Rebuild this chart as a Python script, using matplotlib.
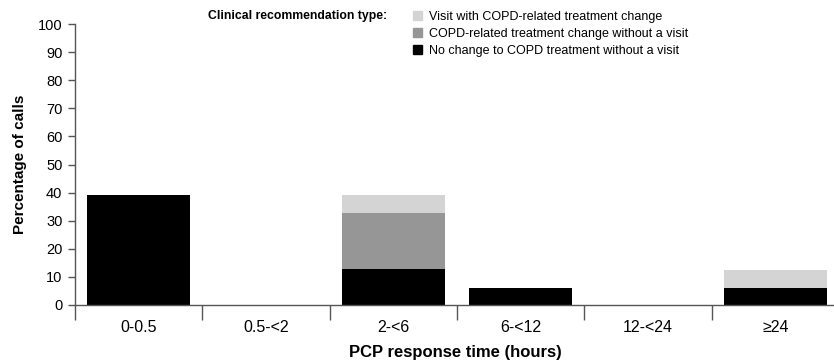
import matplotlib.pyplot as plt
from matplotlib.patches import Patch
from matplotlib import font_manager

categories = ['0-0.5', '0.5-<2', '2-<6', '6-<12', '12-<24', '≥24']
no_change = [39.1, 0, 12.8, 6.0, 0, 6.0]
change_no_visit = [0, 0, 20.0, 0, 0, 0]
visit_change = [0, 0, 6.4, 0, 0, 6.5]

names = {f.name for f in font_manager.fontManager.ttflist}
narrow = 'Liberation Sans Narrow' if 'Liberation Sans Narrow' in names else 'Liberation Sans'
plt.rcParams['font.family'] = ['Liberation Sans', 'DejaVu Sans']

fig = plt.figure(figsize=(8.34, 3.63), dpi=100)
W, H = 834, 363
ax = fig.add_axes([75 / W, (H - 305) / H, (W - 75) / W, 281 / H])

x = list(range(len(categories)))
w = 0.81
bottom2 = [a + b for a, b in zip(no_change, change_no_visit)]
ax.bar(x, no_change, w, color='black')
ax.bar(x, change_no_visit, w, bottom=no_change, color='#969696')
ax.bar(x, visit_change, w, bottom=bottom2, color='#d4d4d4')

ax.set_xlim(-0.5, 5.46)
ax.set_ylim(0, 100)
ax.set_yticks(range(0, 101, 10))
ax.tick_params(axis='y', length=5, width=1, colors='#555555', labelcolor='black',
               labelsize=10.5, pad=4)
ax.set_xticks([i - 0.5 for i in range(6)])
ax.set_xticklabels([])
ax.tick_params(axis='x', length=11, width=1, colors='#555555')
for i, c in enumerate(categories):
    ax.text(i, -5.5, c, ha='center', va='top', fontsize=11.5, family=[narrow, 'DejaVu Sans'])

for s in ['top', 'right']:
    ax.spines[s].set_visible(False)
for s in ['left', 'bottom']:
    ax.spines[s].set_color('#555555')
    ax.spines[s].set_linewidth(1)

ax.set_ylabel('Percentage of calls', fontsize=11, fontweight='bold', labelpad=8)
fig.text(455 / W, 1 - 353 / H, 'PCP response time (hours)', ha='center', va='center',
         fontsize=12, fontweight='bold', family=[narrow, 'DejaVu Sans'])

fig.text(208 / W, 1 - 16 / H, 'Clinical recommendation type:', ha='left', va='center',
         fontsize=8.8, fontweight='bold')
handles = [Patch(color='#d4d4d4'), Patch(color='#969696'), Patch(color='black')]
labels = ['Visit with COPD-related treatment change',
          'COPD-related treatment change without a visit',
          'No change to COPD treatment without a visit']
fig.legend(handles, labels, loc='upper left', bbox_to_anchor=(413 / W, 1 - 11 / H),
           frameon=False, fontsize=9, handlelength=0.75, handleheight=0.75,
           handletextpad=0.5, labelspacing=0.4, borderaxespad=0, borderpad=0)

fig.savefig('out.png', dpi=100)
